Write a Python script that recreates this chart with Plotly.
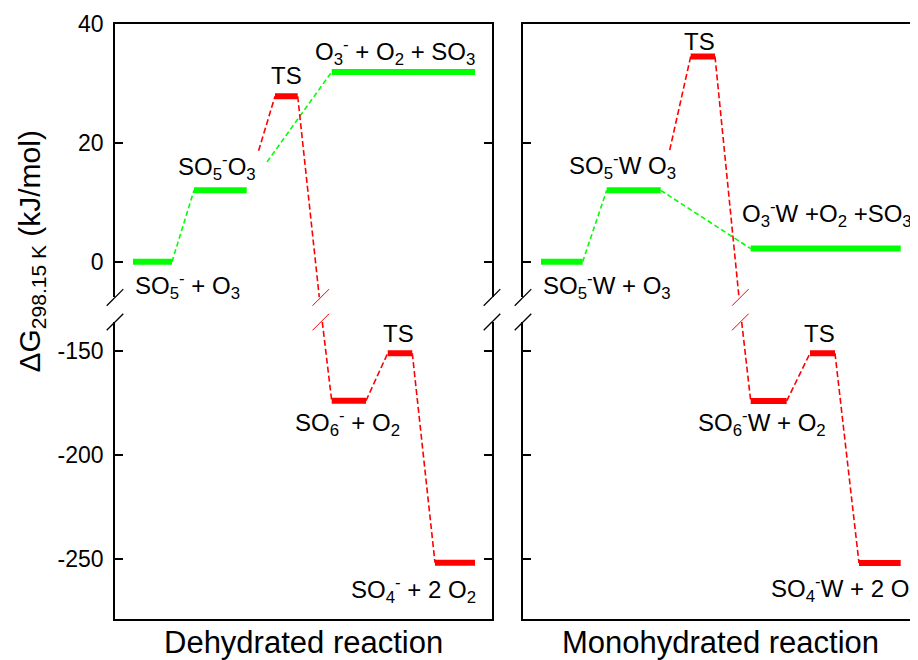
import plotly.graph_objects as go

W, H = 918, 660
OFF = 8  # page offset of the plot div inside the browser window
FONT = "Liberation Sans, Arial, Helvetica, sans-serif"

# ---------------- data ----------------
panel_titles = ["Dehydrated reaction", "Monohydrated reaction"]

dh_labels = ["SO<sub>5</sub><sup>-</sup> + O<sub>3</sub>",
             "SO<sub>5</sub><sup>-</sup>O<sub>3</sub>",
             "TS",
             "O<sub>3</sub><sup>-</sup> + O<sub>2</sub> + SO<sub>3</sub>",
             "SO<sub>6</sub><sup>-</sup> + O<sub>2</sub>",
             "TS",
             "SO<sub>4</sub><sup>-</sup> + 2 O<sub>2</sub>"]
dh_energy = [0.0, 12.0, 27.8, 31.9, -173.8, -151.0, -251.6]
dh_coord_start = [18, 79, 160, 216.7, 216.7, 272.7, 320]
dh_coord_end = [57, 131.7, 182.7, 360, 251, 297.3, 360]
dh_path = ["g", "g", "r", "g", "r", "r", "r"]
dh_link_from = [0, 1, 1, 2, 4, 5]
dh_link_to = [1, 3, 2, 4, 5, 6]
dh_link_begin = [0, 0.24, 0.42, 0, 0, 0]
dh_break_coord = [204.3, 207.3]

mh_labels = ["SO<sub>5</sub><sup>-</sup>W + O<sub>3</sub>",
             "SO<sub>5</sub><sup>-</sup>W O<sub>3</sub>",
             "TS",
             "O<sub>3</sub><sup>-</sup>W +O<sub>2</sub> +SO<sub>3</sub>",
             "SO<sub>6</sub><sup>-</sup>W + O<sub>2</sub>",
             "TS",
             "SO<sub>4</sub><sup>-</sup>W + 2 O<sub>2</sub>"]
mh_energy = [0.0, 12.0, 34.5, 2.2, -173.9, -151.0, -251.7]
mh_coord_start = [18, 83.7, 167.7, 227.7, 227.7, 287, 336]
mh_coord_end = [59.7, 137.7, 192, 377.7, 263.7, 312, 377.7]
mh_path = ["g", "g", "r", "g", "r", "r", "r"]
mh_link_from = [0, 1, 1, 2, 4, 5]
mh_link_to = [1, 3, 2, 4, 5, 6]
mh_link_begin = [0, 0, 0.3, 0, 0, 0]
mh_break_coord = [216.0, 218.7]

upper_tickvals = [0, 20, 40]
upper_ticktext = ["0", "20", "40"]
lower_tickvals = [-250, -200, -150]
lower_ticktext = ["-250", "-200", "-150"]

y_upper_range = [-6, 40]
y_lower_range = [-278.6, -136]
x_ranges = [[0, 377], [0, 395.5]]

# ---------------- style / layout ----------------
COLORS = {"g": "#00ff00", "r": "#ff0000"}
DASHES = {"g": "5px,3px", "r": "6px,3px"}


def PX(p):  # window pixel -> paper x
    return (p - OFF) / W


def PY(p):  # window pixel -> paper y
    return 1 - (p - OFF) / H


X_DOM = [[PX(115), PX(492)], [PX(523), PX(918.5)]]
Y_DOM_UP = [PY(297.4), PY(23.7)]
Y_DOM_LO = [PY(619), PY(322)]

LABEL_STYLE = [
    [("left", 0, -24), ("center", -3.4, 23.5), ("center", 0, 20.5), ("right", 2, 20.3),
     ("center", -1, -22.5), ("center", -1.7, 20.2), ("right", 3, -27.2)],
    [("left", 0, -23.8), ("center", -11.2, 24.2), ("center", -2.9, 14.5), ("center", 1, 35),
     ("center", -7, -22.3), ("center", -3, 20.2), ("left", -90.5, -26.3)],
]

panels = [
    dict(labels=dh_labels, energy=dh_energy, start=dh_coord_start, end=dh_coord_end,
         path=dh_path, lf=dh_link_from, lt=dh_link_to, lb=dh_link_begin, brk=dh_break_coord),
    dict(labels=mh_labels, energy=mh_energy, start=mh_coord_start, end=mh_coord_end,
         path=mh_path, lf=mh_link_from, lt=mh_link_to, lb=mh_link_begin, brk=mh_break_coord),
]

fig = go.Figure()
shapes = []
annotations = []
layout = {}


def axid(n, letter):
    return letter if n == 1 else f"{letter}{n}"


def slash(xref, yref, xa, ya, color, width):
    return dict(type="line", xref=xref, yref=yref, xsizemode="pixel", ysizemode="pixel",
                xanchor=xa, yanchor=ya, x0=-8.3, x1=8.3, y0=-8.3, y1=8.3,
                line=dict(color=color, width=width), layer="above")


for p, pan in enumerate(panels):
    n_up = 2 * p + 1
    n_lo = 2 * p + 2
    for n, part in ((n_up, "up"), (n_lo, "lo")):
        xk = "xaxis" if n == 1 else f"xaxis{n}"
        yk = "yaxis" if n == 1 else f"yaxis{n}"
        layout[xk] = dict(domain=X_DOM[p], range=x_ranges[p], anchor=axid(n, "y"),
                          showgrid=False, zeroline=False, showticklabels=False, ticks="",
                          showline=True, linecolor="black", linewidth=1.5, mirror=False,
                          side="top" if part == "up" else "bottom", fixedrange=True,
                          automargin=False)
        layout[yk] = dict(domain=Y_DOM_UP if part == "up" else Y_DOM_LO,
                          range=y_upper_range if part == "up" else y_lower_range,
                          anchor=axid(n, "x"),
                          tickvals=upper_tickvals if part == "up" else lower_tickvals,
                          ticktext=upper_ticktext if part == "up" else lower_ticktext,
                          showticklabels=(p == 0),
                          ticks="inside", ticklen=8, tickwidth=1.5, tickcolor="black",
                          showline=True, linecolor="black", linewidth=1.5, mirror="ticks",
                          showgrid=False, zeroline=False, fixedrange=True, automargin=False,
                          tickfont=dict(family=FONT, size=23, color="black"),
                          ticklabelstandoff=5)

    def sub_of(e):
        return n_up if e >= y_upper_range[0] else n_lo

    # connectors
    for a, b, beg in zip(pan["lf"], pan["lt"], pan["lb"]):
        kind = pan["path"][b]
        col = COLORS[kind]
        ea, eb = pan["energy"][a], pan["energy"][b]
        xa, xb = pan["end"][a], pan["start"][b]
        sa, sb = sub_of(ea), sub_of(eb)
        dline = dict(color=col, width=1.6, dash=DASHES[kind])
        if sa == sb:
            x0 = xa + beg * (xb - xa)
            y0 = ea + beg * (eb - ea)
            fig.add_trace(go.Scatter(x=[x0, xb], y=[y0, eb], mode="lines", line=dline,
                                     xaxis=axid(sa, "x"), yaxis=axid(sa, "y"),
                                     hoverinfo="skip", showlegend=False))
        else:
            bx0, bx1 = pan["brk"]
            fig.add_trace(go.Scatter(x=[xa, bx0], y=[ea, y_upper_range[0]], mode="lines", line=dline,
                                     xaxis=axid(sa, "x"), yaxis=axid(sa, "y"),
                                     hoverinfo="skip", showlegend=False))
            fig.add_trace(go.Scatter(x=[bx1, xb], y=[y_lower_range[1], eb], mode="lines", line=dline,
                                     xaxis=axid(sb, "x"), yaxis=axid(sb, "y"),
                                     hoverinfo="skip", showlegend=False))
            xr = x_ranges[p]
            fx = ((bx0 + bx1) / 2 - xr[0]) / (xr[1] - xr[0])
            shapes.append(slash(f"{axid(sa, 'x')} domain", f"{axid(sa, 'y')} domain", fx, 0, col, 1))
            shapes.append(slash(f"{axid(sb, 'x')} domain", f"{axid(sb, 'y')} domain", fx, 1, col, 1))

    # levels
    for i, e in enumerate(pan["energy"]):
        s = sub_of(e)
        fig.add_trace(go.Scatter(x=[pan["start"][i], pan["end"][i]], y=[e, e], mode="lines",
                                 line=dict(color=COLORS[pan["path"][i]], width=6),
                                 xaxis=axid(s, "x"), yaxis=axid(s, "y"),
                                 hoverinfo="skip", showlegend=False))
        anc, dx, dy = LABEL_STYLE[p][i]
        if anc == "left":
            xpos = pan["start"][i]
        elif anc == "right":
            xpos = pan["end"][i]
        else:
            xpos = (pan["start"][i] + pan["end"][i]) / 2
        annotations.append(dict(x=xpos, y=e, xref=axid(s, "x"), yref=axid(s, "y"),
                                text=pan["labels"][i], showarrow=False, xanchor=anc,
                                yanchor="middle", xshift=dx, yshift=dy,
                                font=dict(family=FONT, size=24, color="black")))

    # axis break marks
    for fx in (0, 1):
        shapes.append(slash(f"{axid(n_up, 'x')} domain", f"{axid(n_up, 'y')} domain", fx, 0, "black", 1.3))
        shapes.append(slash(f"{axid(n_lo, 'x')} domain", f"{axid(n_lo, 'y')} domain", fx, 1, "black", 1.3))

    # panel title
    annotations.append(dict(x=0.5, y=PY(642), xref=f"{axid(n_lo, 'x')} domain", yref="paper",
                            text=panel_titles[p], showarrow=False, xanchor="center", yanchor="middle",
                            font=dict(family=FONT, size=31, color="black")))

annotations.append(dict(x=PX(31), y=PY(251.5), xref="paper", yref="paper",
                        text="ΔG<sub>298.15 K</sub> (kJ/mol)", textangle=-90, showarrow=False,
                        xanchor="center", yanchor="middle",
                        font=dict(family=FONT, size=30, color="black")))

fig.update_layout(width=W, height=H, margin=dict(l=0, r=0, t=0, b=0, pad=0, autoexpand=False),
                  paper_bgcolor="white", plot_bgcolor="white",
                  shapes=shapes, annotations=annotations, showlegend=False, **layout)

fig.write_html("out.html", config={"displayModeBar": False})
